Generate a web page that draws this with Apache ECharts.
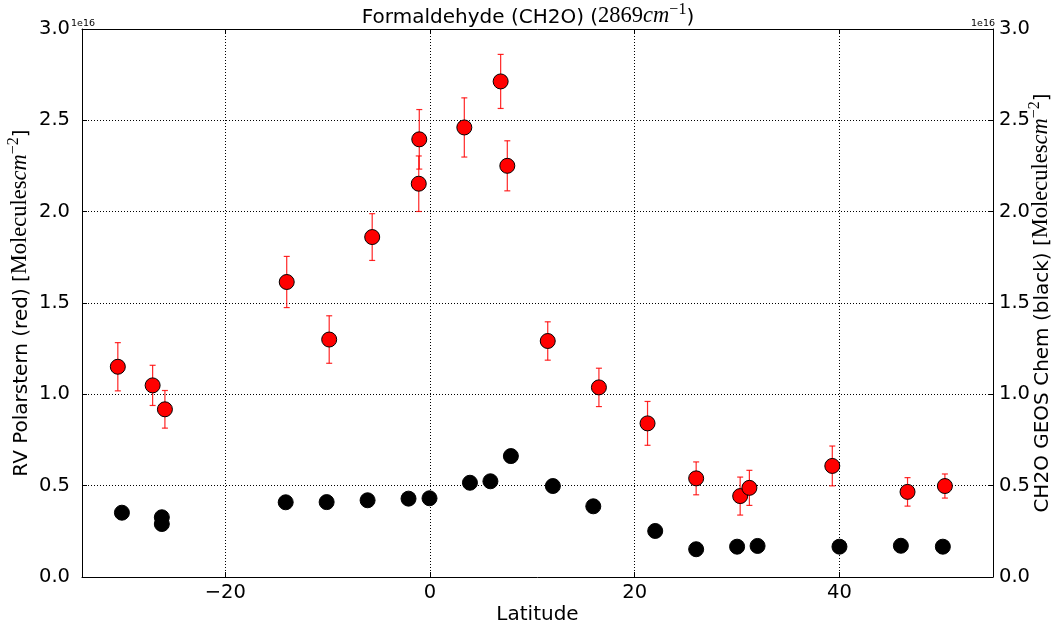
<!DOCTYPE html>
<html>
<head>
<meta charset="utf-8">
<script src="https://cdn.jsdelivr.net/npm/echarts@6/dist/echarts.min.js"></script>
<style>html,body{margin:0;padding:0;background:#fff}#c{width:1056px;height:630px}</style>
</head>
<body>
<div id="c"></div>
<script>
// Values in units of 1e16 molecules cm^-2
const redLat = [-30.5, -27.1, -25.9, -14.0, -9.85, -5.65, -1.05, -1.1, 3.35, 6.9, 7.55, 11.5, 16.5, 21.25, 26.0, 30.3, 31.2, 39.3, 46.65, 50.3];
const redVal = [1.151, 1.049, 0.918, 1.615, 1.30, 1.861, 2.396, 2.153, 2.461, 2.713, 2.251, 1.292, 1.038, 0.841, 0.54, 0.443, 0.488, 0.608, 0.466, 0.498];
const redErr = [0.132, 0.11, 0.103, 0.14, 0.13, 0.128, 0.163, 0.152, 0.162, 0.148, 0.137, 0.105, 0.105, 0.12, 0.09, 0.104, 0.096, 0.109, 0.078, 0.066];
const blackLat = [-30.1, -26.2, -26.2, -14.1, -10.1, -6.1, -2.1, -0.05, 3.9, 5.9, 7.9, 12.0, 15.95, 22.0, 26.0, 30.0, 32.0, 40.0, 46.0, 50.1];
const blackVal = [0.352, 0.327, 0.29, 0.409, 0.41, 0.42, 0.429, 0.431, 0.516, 0.524, 0.662, 0.498, 0.387, 0.252, 0.152, 0.166, 0.17, 0.166, 0.171, 0.166];
const xTicks = [-20, 0, 20, 40];
const xMin = -34, xMax = 55;
const yMin = 0, yMax = 3, yStep = 0.5;
const scaleText = '1e16';
const titleParts = ['Formaldehyde (CH2O) (', '2869', 'cm', '\u22121', ')'];
const xName = 'Latitude';
const leftName = ['RV Polarstern (red) [', 'Molecules', 'cm', '\u22122', ']'];
const rightName = ['CH2O GEOS Chem (black) [', 'Molecules', 'cm', '\u22122', ']'];

const FONT = 'DejaVu Sans';
const SERIF = 'Liberation Serif';
function richFor(size) {
  const base = {color: '#000', fontWeight: 'normal', lineHeight: size + 6};
  return {
    a: Object.assign({}, base, {fontFamily: FONT, fontSize: size, verticalAlign: 'bottom'}),
    m: Object.assign({}, base, {fontFamily: SERIF, fontSize: size + 2.5, verticalAlign: 'bottom'}),
    i: Object.assign({}, base, {fontFamily: SERIF, fontStyle: 'italic', fontSize: size + 2.5, verticalAlign: 'bottom'}),
    s: Object.assign({}, base, {fontFamily: SERIF, fontSize: Math.round(size * 0.78), verticalAlign: 'top'})
  };
}
function richText(p) {
  return '{a|' + p[0] + '}{m|' + p[1] + '}{i|' + p[2] + '}{s|' + p[3] + '}{a|' + p[4] + '}';
}
const minus = v => (v < 0 ? '\u2212' + Math.abs(v) : String(v));

const chart = echarts.init(document.getElementById('c'), null, {renderer: 'canvas'});
const axisLineStyle = {show: true, onZero: false, lineStyle: {color: '#000', width: 1}};
const gridDots = {show: true, lineStyle: {color: '#000', type: [1, 2], width: 1}};
const TICK = 19.5;

const option = {
  animation: false,
  backgroundColor: '#fff',
  title: {
    text: richText(titleParts),
    left: 'center', top: -3,
    textStyle: {rich: richFor(20)}
  },
  graphic: [
    {type: 'text', left: 71, top: 19, style: {text: scaleText, font: '9.5px "DejaVu Sans"', fill: '#000'}},
    {type: 'text', left: 971, top: 19, style: {text: scaleText, font: '9.5px "DejaVu Sans"', fill: '#000'}}
  ],
  grid: {left: 82, right: 63, top: 29, bottom: 53, containLabel: false, outerBoundsMode: 'none'},
  xAxis: [
    {
      type: 'value', min: xMin, max: xMax, position: 'bottom',
      name: xName, nameLocation: 'middle', nameGap: 28, nameMoveOverlap: false,
      nameTextStyle: {fontFamily: FONT, fontSize: 20, color: '#000'},
      axisLine: axisLineStyle,
      axisTick: {show: true, inside: true, length: 5, customValues: xTicks, lineStyle: {color: '#000'}},
      axisLabel: {show: true, customValues: xTicks, formatter: v => minus(v), fontFamily: FONT, fontSize: TICK, color: '#000', margin: 6},
      splitLine: {show: false}
    },
    {
      type: 'value', min: xMin, max: xMax, position: 'top',
      axisLine: axisLineStyle,
      axisTick: {show: true, inside: true, length: 5, customValues: xTicks, lineStyle: {color: '#000'}},
      axisLabel: {show: false},
      splitLine: {show: false}
    }
  ],
  yAxis: [
    {
      type: 'value', min: yMin, max: yMax, interval: yStep, position: 'left',
      name: richText(leftName), nameLocation: 'middle', nameRotate: 90, nameGap: 50, nameMoveOverlap: false,
      nameTextStyle: {rich: richFor(20)},
      axisLine: axisLineStyle,
      axisTick: {show: true, inside: true, length: 5, lineStyle: {color: '#000'}},
      axisLabel: {formatter: v => v.toFixed(1), fontFamily: FONT, fontSize: TICK, color: '#000', margin: 12},
      splitLine: gridDots
    },
    {
      type: 'value', min: yMin, max: yMax, interval: yStep, position: 'right',
      name: richText(rightName), nameLocation: 'middle', nameRotate: 90, nameGap: 34, nameMoveOverlap: false,
      nameTextStyle: {rich: richFor(20)},
      axisLine: axisLineStyle,
      axisTick: {show: true, inside: true, length: 5, lineStyle: {color: '#000'}},
      axisLabel: {formatter: v => v.toFixed(1), fontFamily: FONT, fontSize: TICK, color: '#000', margin: 6},
      splitLine: {show: false}
    }
  ],
  series: [
    {
      type: 'line', xAxisIndex: 0, yAxisIndex: 0, data: [], silent: true,
      markLine: {
        silent: true, symbol: 'none', label: {show: false},
        lineStyle: {color: '#000', type: [1, 2], width: 1},
        data: xTicks.map(v => ({xAxis: v}))
      }
    },
    {
      type: 'custom', xAxisIndex: 0, yAxisIndex: 0, z: 3,
      data: redLat.map((x, i) => [x, redVal[i], redErr[i]]),
      renderItem: function (params, api) {
        const x = api.value(0), y = api.value(1), e = api.value(2);
        const top = api.coord([x, y + e]);
        const bot = api.coord([x, y - e]);
        const cw = 3;
        const st = {stroke: 'rgba(255,0,0,0.85)', lineWidth: 1.2};
        return {type: 'group', children: [
          {type: 'line', shape: {x1: top[0], y1: top[1], x2: bot[0], y2: bot[1]}, style: st},
          {type: 'line', shape: {x1: top[0] - cw, y1: top[1], x2: top[0] + cw, y2: top[1]}, style: st},
          {type: 'line', shape: {x1: bot[0] - cw, y1: bot[1], x2: bot[0] + cw, y2: bot[1]}, style: st}
        ]};
      }
    },
    {
      type: 'scatter', xAxisIndex: 0, yAxisIndex: 0, z: 4,
      symbol: 'circle', symbolSize: 15,
      itemStyle: {color: '#ff0000', borderColor: '#000', borderWidth: 1, opacity: 1},
      data: redLat.map((x, i) => [x, redVal[i]])
    },
    {
      type: 'scatter', xAxisIndex: 0, yAxisIndex: 1, z: 5,
      symbol: 'circle', symbolSize: 15,
      itemStyle: {color: '#000', borderColor: '#000', borderWidth: 1, opacity: 1},
      data: blackLat.map((x, i) => [x, blackVal[i]])
    }
  ]
};
chart.setOption(option);
</script>
</body>
</html>
